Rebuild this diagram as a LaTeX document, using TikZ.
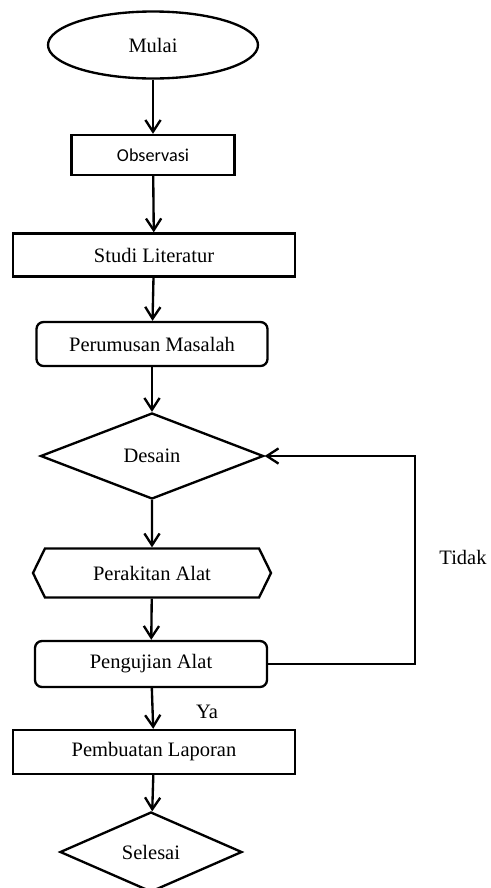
\documentclass[tikz,border=0pt]{standalone}
\usepackage{fontspec}
\setmainfont{Liberation Serif}
\newfontfamily\calfont{Carlito}
\usepackage{tikz}
\usetikzlibrary{shapes.geometric, shapes.symbols, arrows.meta}

\begin{document}
\begin{tikzpicture}[x=0.03cm, y=-0.03cm, line width=2pt,
  font=\fontsize{17.5}{20}\selectfont,
  kotak/.style={draw, rectangle, inner sep=0pt},
  bulat/.style={draw, rectangle, rounded corners=6pt, inner sep=0pt},
  belah/.style={draw, diamond, inner sep=0pt},
  panah/.style={-{Straight Barb[length=10pt, width=13pt, line width=2pt]}}]
\useasboundingbox (0,0) rectangle (490,888);

% draw the steps
\node[draw, ellipse, minimum width=6.3cm, minimum height=2.01cm] (mulai) at (153,45) {Mulai};
\node[kotak, minimum width=4.89cm, minimum height=1.2cm, font=\calfont\fontsize{15.5}{18}\selectfont] (observasi) at (153,155) {Observasi};
\node[kotak, minimum width=8.46cm, minimum height=1.29cm] (studi) at (154,255) {Studi Literatur};
\node[bulat, minimum width=6.93cm, minimum height=1.32cm] (rumusan) at (152,344) {Perumusan Masalah};
\node[belah, minimum width=6.69cm, minimum height=2.58cm] (desain) at (152,456) {Desain};
\node[draw, signal, signal to=east and west, signal pointer angle=128, inner sep=0pt,
  minimum width=7.14cm, minimum height=1.47cm] (rakit) at (152,573) {Perakitan Alat};
\node[bulat, minimum width=6.96cm, minimum height=1.38cm] (uji) at (151,664) {Pengujian Alat};
\node[kotak, minimum width=8.46cm, minimum height=1.32cm] (laporan) at (154,752) {Pembuatan Laporan};
\node[belah, minimum width=5.46cm, minimum height=2.4cm] (selesai) at (151,852) {Selesai};

\coordinate (balik) at (415,456);

% draw the arrows
\draw[panah] (mulai) -- (observasi);
\draw[panah] (observasi) -- (studi);
\draw[panah] (studi) -- (rumusan);
\draw[panah] (rumusan) -- (desain);
\draw[panah] (desain) -- (rakit);
\draw[panah] (rakit) -- (uji);
\draw[panah] (uji) -- (laporan);
\draw[panah] (laporan) -- (selesai);
\draw[panah] (uji.east) -| (balik) -- (desain.east);

% labels
\node (ya) at (207,712) {Ya};
\node (tidak) at (463,557) {Tidak};

\end{tikzpicture}
\end{document}
